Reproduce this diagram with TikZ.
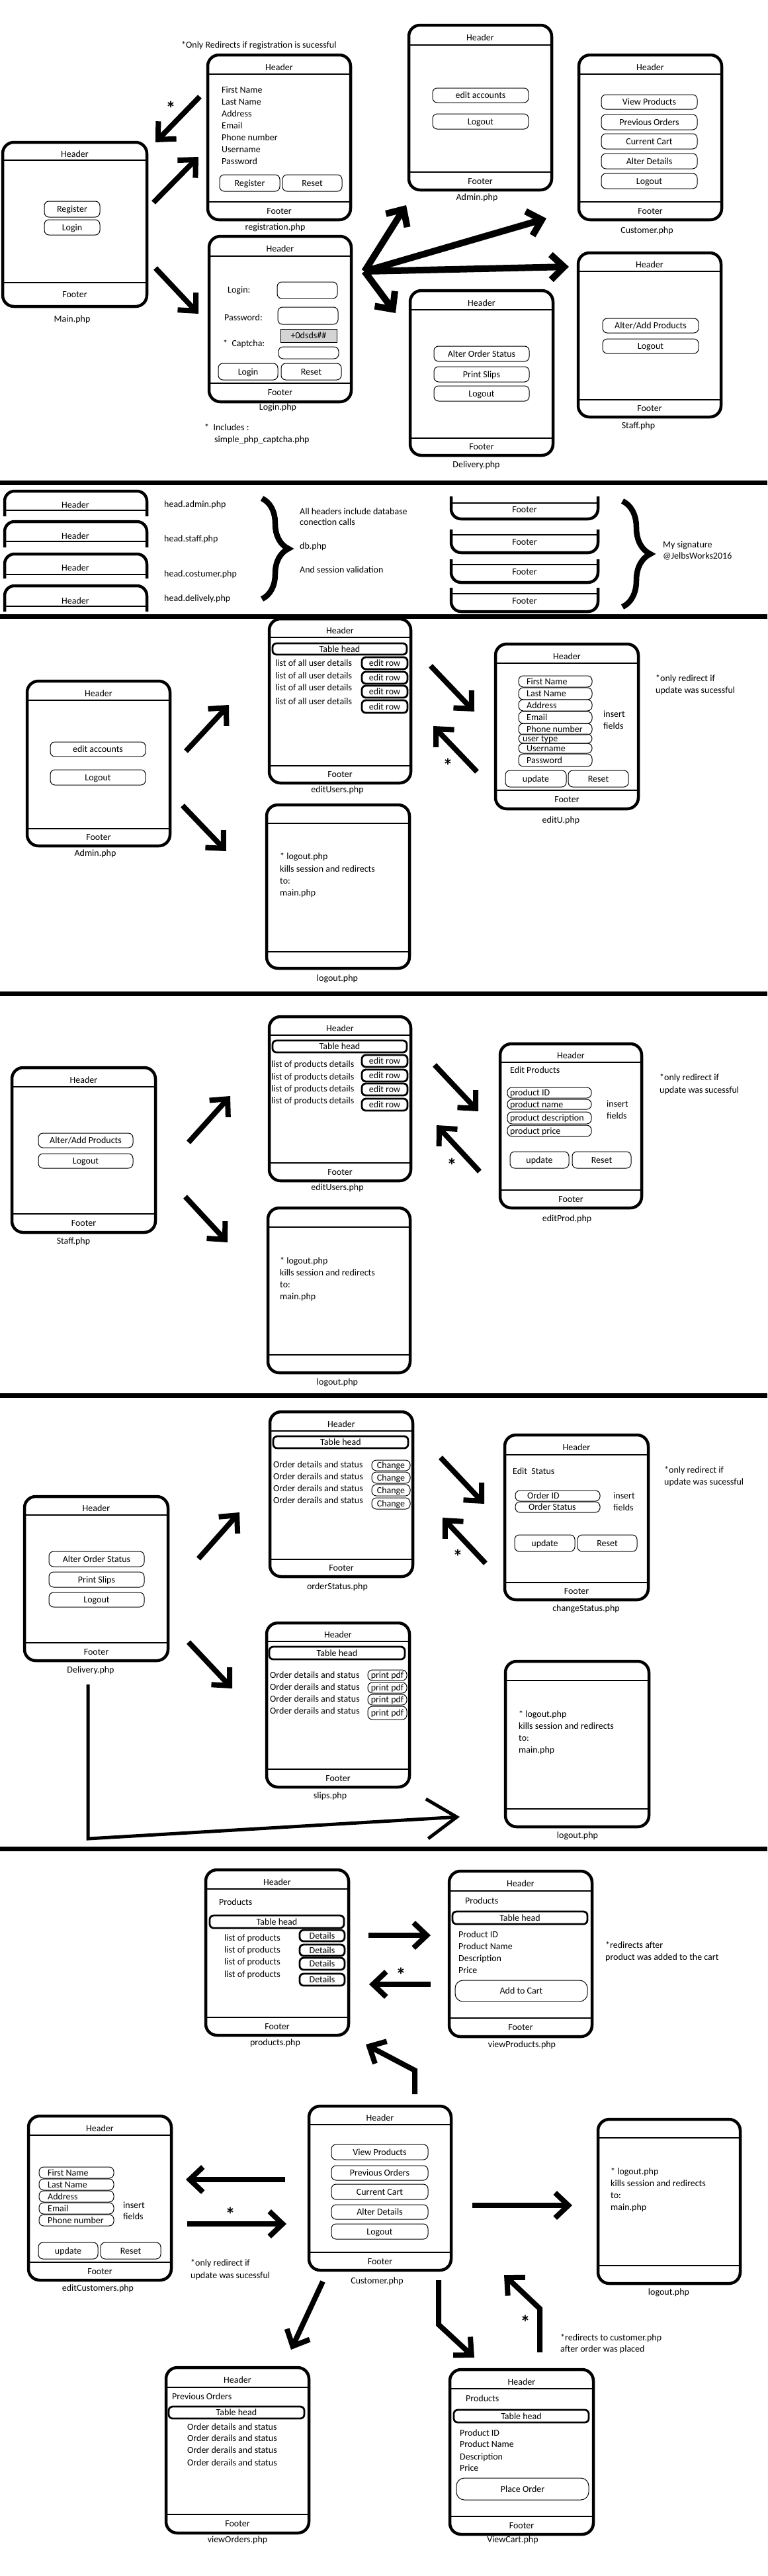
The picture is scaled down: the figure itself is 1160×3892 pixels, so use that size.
\documentclass[tikz,border=0pt]{standalone}
\usepackage{fontspec}
\setmainfont{Carlito}
\usetikzlibrary{arrows.meta,decorations.pathreplacing}
\newcounter{tn}
\tikzset{
 txt/.style={font=\fontsize{14}{17}\selectfont, inner sep=0pt, text height=9.2pt, text depth=0pt},
 phonebox/.style={draw, line width=4.5pt, rounded corners=17pt, inner sep=0pt, outer sep=0pt},
 hline/.style={line width=1.3pt},
 btn/.style={draw, line width=1pt, rounded corners=7pt, txt, outer sep=0pt},
 thk/.style={line width=2.8pt, rounded corners=6pt},
 arr/.style={line width=8pt, -{Straight Barb[length=20pt,width=38pt]}},
 divider/.style={line width=7pt},
 openbox/.style={line width=4.5pt, rounded corners=15pt},
 brc/.style={line width=8.5pt, decorate, decoration={brace, amplitude=40pt}},
}
\newcommand\phone[9]{%
 \pgfmathsetmacro\phw{#4-#2}\pgfmathsetmacro\phh{#5-#3}%
 \pgfmathsetmacro\phcx{(#2+#4)/2}\pgfmathsetmacro\phhy{(#3+#6)/2+4}\pgfmathsetmacro\phfy{(#7+#5)/2}%
 \node[phonebox,minimum width=\phw pt,minimum height=\phh pt,anchor=north west] (#1) at (#2,#3) {};%
 \draw[hline] (#2,#6) -- (#4,#6);%
 \draw[hline] (#2,#7) -- (#4,#7);%
 \node[txt] (#1-h) at (\phcx,\phhy) {#8};%
 \node[txt] (#1-f) at (\phcx,\phfy) {#9};%
}
\newcommand\bt[7][]{%
 \pgfmathsetmacro\bw{#5-#3}\pgfmathsetmacro\bh{#6-#4}%
 \node[btn,minimum width=\bw pt,minimum height=\bh pt,anchor=north west,#1] (#2) at (#3,#4) {#7};}
\newcommand\fl[7][10]{%
 \pgfmathsetmacro\bw{#5-#3}\pgfmathsetmacro\bh{#6-#4}%
 \node[btn,minimum width=\bw pt,minimum height=\bh pt,anchor=north west] (#2) at (#3,#4) {};%
 \node[txt,anchor=west] (#2-t) at ([xshift=#1pt]#2.west) {#7};}
\newcommand\tx[3][]{\stepcounter{tn}\node[txt,anchor=west,#1] (t\arabic{tn}) at (#2) {#3};}
\newcommand\tc[2]{\stepcounter{tn}\node[txt] (t\arabic{tn}) at (#1) {#2};}
\newcommand\astr[1]{\stepcounter{tn}\node[txt,font=\fontsize{30}{30}\selectfont\bfseries,yshift=-10pt] (t\arabic{tn}) at (#1) {*};}
\newcommand\ar[4][]{\coordinate (#2s) at (#3);\coordinate (#2e) at (#4);\draw[arr,#1] (#2s) -- (#2e);}

\begin{document}
\begin{tikzpicture}[x=1pt,y=-1pt]
\fill[white] (0,0) rectangle (1160,3892);
\useasboundingbox (0,0) rectangle (1160,3892);

% ================= SECTION 1 =================
\tx{274,68}{*Only Redirects if registration is sucessful}
\phone{reg}{314}{83}{530}{332}{112}{305}{Header}{Footer}
\tx{335,136}{First Name}
\tx{335,154}{Last Name}
\tx{335,172}{Address}
\tx{335,190}{Email}
\tx{335,208}{Phone number}
\tx{335,226}{Username}
\tx{335,244}{Password}
\bt{regR}{332}{264}{423}{289}{Register}
\bt{regS}{427}{264}{517}{289}{Reset}
\tc{416,343}{registration.php}

\phone{adm}{618}{38}{834}{287}{68}{260}{Header}{Footer}
\bt{admE}{654}{133}{799}{155}{edit accounts}
\bt{admL}{654}{172}{799}{195}{Logout}
\tc{721,298}{Admin.php}

\phone{cus}{875}{83}{1091}{332}{112}{305}{Header}{Footer}
\bt{cusV}{909}{143}{1054}{165}{View Products}
\bt{cusP}{909}{173}{1054}{196}{Previous Orders}
\bt{cusC}{909}{202}{1054}{225}{Current Cart}
\bt{cusA}{909}{232}{1054}{255}{Alter Details}
\bt{cusL}{909}{262}{1054}{285}{Logout}
\tc{978,348}{Customer.php}

\phone{mai}{4}{215}{222}{463}{242}{427}{Header}{Footer}
\bt{maiR}{67}{304}{151}{328}{Register}
\bt{maiL}{67}{332}{151}{355}{Login}
\tc{109,482}{Main.php}

\phone{log}{316}{357}{531}{607}{387}{579}{Header}{Footer}
\tx{344,438}{Login:}
\bt{lgI}{419}{426}{510}{451}{}
\tx{339,480}{Password:}
\bt{lgP}{420}{464}{511}{490}{}
\bt[fill=black!17,rounded corners=0pt]{lgK}{424}{497}{509}{517}{+0dsds\#\#}
\tx{337,519}{*\ \ Captcha:}
\bt{lgC}{421}{524}{512}{542}{}
\bt{lgB}{330}{549}{420}{574}{Login}
\bt{lgR}{425}{549}{516}{574}{Reset}
\tc{420,615}{Login.php}
\tx{309,646}{*\ \ Includes :}
\tx{324,664}{simple\_php\_captcha.php}

\phone{del}{620}{439}{836}{688}{468}{662}{Header}{Footer}
\bt{delA}{656}{523}{800}{546}{Alter Order Status}
\bt{delP}{656}{554}{800}{577}{Print Slips}
\bt{delL}{656}{583}{800}{606}{Logout}
\tc{720,702}{Delivery.php}

\phone{sta}{874}{382}{1090}{630}{410}{604}{Header}{Footer}
\bt{staA}{911}{481}{1056}{503}{Alter/Add Products}
\bt{staL}{911}{512}{1056}{534}{Logout}
\tc{965,643}{Staff.php}

\ar{a1}{302,146}{235,215}
\astr{258,160}
\ar{a2}{232,306}{300,237}
\ar{a3}{235,405}{300,474}
\coordinate (fan) at (551,410);
\coordinate (fanA) at (614,310);
\coordinate (fanC) at (826,330);
\coordinate (fanS) at (860,403);
\coordinate (fanD) at (598,473);
\draw[arr,line width=10pt] (fan) -- (fanA);
\draw[arr,line width=10pt] (fan) -- (fanC);
\draw[arr,line width=10pt] (fan) -- (fanS);
\draw[arr,line width=10pt] (fan) -- (fanD);

% dividers
\coordinate (dv1a) at (0,729); \coordinate (dv1b) at (1160,729);
\draw[divider] (dv1a) -- (dv1b);
\coordinate (dv2a) at (0,931); \coordinate (dv2b) at (1160,931);
\draw[divider] (dv2a) -- (dv2b);
\coordinate (dv3a) at (0,1501); \coordinate (dv3b) at (1160,1501);
\draw[divider] (dv3a) -- (dv3b);
\coordinate (dv4a) at (0,2108); \coordinate (dv4b) at (1160,2108);
\draw[divider] (dv4a) -- (dv4b);
\coordinate (dv5a) at (0,2793); \coordinate (dv5b) at (1160,2793);
\draw[divider] (dv5a) -- (dv5b);

% ================= SECTION 2 =================
\draw[openbox] (7,780) -- (7,742) -- (222,742) -- (222,780);
\draw[hline] (7,771) -- (222,771);
\tc{114,763}{Header}
\draw[openbox] (7,827) -- (7,788) -- (222,788) -- (222,827);
\draw[hline] (7,818) -- (222,818);
\tc{114,810}{Header}
\draw[openbox] (7,874) -- (7,837) -- (222,837) -- (222,874);
\draw[hline] (7,868) -- (222,868);
\tc{114,858}{Header}
\draw[openbox] (7,924) -- (7,885) -- (222,885) -- (222,924);
\draw[hline] (7,916) -- (222,916);
\tc{114,908}{Header}
\tx{248,762}{head.admin.php}
\tx{248,814}{head.staff.php}
\tx{248,867}{head.costumer.php}
\tx{248,904}{head.delively.php}
\draw[brc] (396,753) -- (396,905);
\tx{453,773}{All headers include database}
\tx{453,789}{conection calls}
\tx{453,825}{db.php}
\tx{453,861}{And session validation}

\draw[openbox] (682,750) -- (682,784) -- (904,784) -- (904,750);
\draw[hline] (682,760) -- (904,760);
\tc{793,770}{Footer}
\draw[openbox] (682,800) -- (682,835) -- (904,835) -- (904,800);
\draw[hline] (682,808) -- (904,808);
\tc{793,819}{Footer}
\draw[openbox] (682,845) -- (682,880) -- (904,880) -- (904,845);
\draw[hline] (682,853) -- (904,853);
\tc{793,864}{Footer}
\draw[openbox] (682,888) -- (682,924) -- (904,924) -- (904,888);
\draw[hline] (682,897) -- (904,897);
\tc{793,908}{Footer}
\draw[brc,decoration={brace,amplitude=42pt}] (941,757) -- (941,917);
\tx{1002,823}{My signature}
\tx{1002,840}{@JelbsWorks2016}

% ================= SECTION 3 =================
\phone{admB}{41}{1029}{257}{1278}{1058}{1252}{Header}{Footer}
\bt{admBE}{76}{1121}{220}{1143}{edit accounts}
\bt{admBL}{76}{1163}{220}{1186}{Logout}
\tc{144,1289}{Admin.php}

\phone{eus}{407}{935}{621}{1183}{963}{1157}{Header}{Footer}
\bt[thk]{eusT}{412}{972}{615}{989}{Table head}
\tx{416,1002}{list of all user details}
\tx{416,1021}{list of all user details}
\tx{416,1039}{list of all user details}
\tx{416,1060}{list of all user details}
\bt[thk]{eusE1}{547}{993}{616}{1011}{edit row}
\bt[thk]{eusE2}{547}{1015}{616}{1033}{edit row}
\bt[thk]{eusE3}{547}{1036}{616}{1054}{edit row}
\bt[thk]{eusE4}{547}{1058}{616}{1077}{edit row}
\tc{510,1193}{editUsers.php}

\phone{edu}{749}{973}{965}{1222}{1002}{1194}{Header}{Footer}
\fl[12]{eduF1}{784}{1021}{895}{1038}{First Name}
\fl[12]{eduF2}{784}{1039}{895}{1057}{Last Name}
\fl[12]{eduF3}{784}{1057}{895}{1074}{Address}
\fl[12]{eduF4}{784}{1075}{895}{1093}{Email}
\fl[12]{eduF5}{784}{1093}{895}{1110}{Phone number}
\fl[6]{eduF6}{784}{1109}{895}{1123}{user type}
\fl[12]{eduF7}{784}{1123}{895}{1138}{Username}
\fl[12]{eduF8}{784}{1139}{895}{1158}{Password}
\tx{912,1079}{insert}
\tx{912,1097}{fields}
\bt{eduU}{764}{1164}{856}{1189}{update}
\bt{eduR}{859}{1164}{950}{1189}{Reset}
\tc{848,1239}{editU.php}
\tx{991,1025}{*only redirect if}
\tx{991,1043}{update was sucessful}

\phone{loA}{403}{1216}{619}{1463}{1244}{1438}{}{}
\tx{423,1294}{* logout.php}
\tx{423,1313}{kills session and redirects}
\tx{423,1331}{to:}
\tx{423,1349}{main.php}
\tc{510,1478}{logout.php}

\ar{b1}{281,1135}{346,1065}
\ar{b2}{651,1006}{717,1075}
\ar{b3}{721,1166}{655,1097}
\astr{677,1153}
\ar{b4}{276,1217}{342,1286}

% ================= SECTION 4 =================
\phone{eup}{407}{1536}{621}{1784}{1564}{1757}{Header}{Footer}
\bt[thk]{eupT}{412}{1572}{615}{1590}{Table head}
\tx{410,1608}{list of products details}
\tx{410,1627}{list of products details}
\tx{410,1645}{list of products details}
\tx{410,1663}{list of products details}
\bt[thk]{eupE1}{547}{1594}{616}{1612}{edit row}
\bt[thk]{eupE2}{547}{1616}{616}{1634}{edit row}
\bt[thk]{eupE3}{547}{1637}{616}{1655}{edit row}
\bt[thk]{eupE4}{547}{1660}{616}{1678}{edit row}
\tc{510,1794}{editUsers.php}

\phone{staB}{18}{1613}{235}{1862}{1642}{1834}{Header}{Footer}
\bt{staBA}{58}{1712}{201}{1734}{Alter/Add Products}
\bt{staBL}{58}{1743}{201}{1765}{Logout}
\tc{111,1875}{Staff.php}

\phone{epr}{756}{1577}{970}{1825}{1605}{1798}{Header}{Footer}
\tx{771,1617}{Edit Products}
\fl[4]{eprF1}{767}{1643}{894}{1659}{product ID}
\fl[4]{eprF2}{767}{1661}{894}{1676}{product name}
\fl[4]{eprF3}{767}{1680}{894}{1698}{product description}
\fl[4]{eprF4}{767}{1700}{894}{1717}{product price}
\tx{917,1668}{insert}
\tx{917,1686}{fields}
\bt{eprU}{771}{1740}{860}{1765}{update}
\bt{eprR}{865}{1740}{954}{1765}{Reset}
\tc{857,1841}{editProd.php}
\tx{997,1628}{*only redirect if}
\tx{997,1647}{update was sucessful}

\phone{loB}{405}{1825}{620}{2074}{1854}{2047}{}{}
\tx{423,1905}{* logout.php}
\tx{423,1923}{kills session and redirects}
\tx{423,1941}{to:}
\tx{423,1959}{main.php}
\tc{510,2088}{logout.php}

\ar{c1}{285,1726}{348,1656}
\ar{c2}{657,1609}{723,1679}
\ar{c3}{725,1770}{660,1700}
\astr{683,1757}
\ar{c4}{280,1808}{344,1877}

% ================= SECTION 5 =================
\phone{ost}{408}{2133}{624}{2382}{2162}{2356}{Header}{Footer}
\bt[thk]{ostT}{413}{2170}{617}{2188}{Table head}
\tx{413,2213}{Order details and status}
\tx{413,2231}{Order derails and status}
\tx{413,2249}{Order derails and status}
\tx{413,2267}{Order derails and status}
\bt{ostC1}{562}{2206}{620}{2222}{Change}
\bt{ostC2}{562}{2224}{620}{2241}{Change}
\bt{ostC3}{562}{2243}{620}{2260}{Change}
\bt{ostC4}{562}{2263}{620}{2280}{Change}
\tc{510,2397}{orderStatus.php}

\phone{cst}{763}{2168}{980}{2417}{2198}{2391}{Header}{Footer}
\tx{775,2223}{Edit\ \ Status}
\fl[18]{cstF1}{779}{2252}{907}{2268}{Order ID}
\fl[20]{cstF2}{779}{2269}{907}{2285}{Order Status}
\tx{927,2260}{insert}
\tx{927,2278}{fields}
\bt{cstU}{778}{2319}{869}{2344}{update}
\bt{cstR}{873}{2319}{963}{2344}{Reset}
\tc{886,2430}{changeStatus.php}
\tx{1004,2221}{*only redirect if}
\tx{1004,2239}{update was sucessful}

\phone{delB}{37}{2261}{254}{2509}{2289}{2482}{Header}{Footer}
\bt{delBA}{74}{2344}{218}{2367}{Alter Order Status}
\bt{delBP}{74}{2375}{218}{2398}{Print Slips}
\bt{delBL}{74}{2406}{218}{2428}{Logout}
\tc{137,2523}{Delivery.php}

\phone{sli}{403}{2452}{619}{2700}{2480}{2673}{Header}{Footer}
\bt[thk]{sliT}{407}{2488}{612}{2507}{Table head}
\tx{408,2531}{Order details and status}
\tx{408,2549}{Order derails and status}
\tx{408,2567}{Order derails and status}
\tx{408,2585}{Order derails and status}
\bt{sliP1}{556}{2523}{615}{2539}{print pdf}
\bt{sliP2}{556}{2542}{615}{2558}{print pdf}
\bt{sliP3}{556}{2560}{615}{2576}{print pdf}
\bt{sliP4}{556}{2578}{615}{2598}{print pdf}
\tc{499,2713}{slips.php}

\phone{loC}{764}{2510}{981}{2760}{2539}{2733}{}{}
\tx{784,2590}{* logout.php}
\tx{784,2608}{kills session and redirects}
\tx{784,2626}{to:}
\tx{784,2644}{main.php}
\tc{873,2773}{logout.php}

\ar{d1}{300,2355}{362,2285}
\ar{d2}{666,2202}{732,2272}
\ar{d3}{734,2362}{669,2293}
\astr{692,2348}
\ar{d4}{285,2481}{351,2551}
\coordinate (d5s) at (133,2545);
\coordinate (d5m) at (133,2778);
\coordinate (d5e) at (695,2745);
\draw[line width=5pt,-{Straight Barb[length=45pt,width=60pt]}] (d5s) -- (d5m) -- (d5e);

% ================= SECTION 6 =================
\phone{prd}{311}{2825}{527}{3075}{2854}{3048}{Header}{Footer}
\tx{331,2874}{Products}
\bt[thk]{prdT}{317}{2894}{520}{2913}{Table head}
\tx{339,2928}{list of products}
\tx{339,2946}{list of products}
\tx{339,2964}{list of products}
\tx{339,2983}{list of products}
\bt[thk]{prdD1}{453}{2916}{521}{2933}{Details}
\bt[thk]{prdD2}{453}{2938}{521}{2955}{Details}
\bt[thk]{prdD3}{453}{2958}{521}{2976}{Details}
\bt[thk]{prdD4}{453}{2982}{521}{3000}{Details}
\tc{416,3086}{products.php}

\phone{vpr}{679}{2827}{895}{3077}{2857}{3049}{Header}{Footer}
\tx{703,2872}{Products}
\bt[thk]{vprT}{684}{2888}{888}{2907}{Table head}
\tx{693,2923}{Product ID}
\tx{693,2941}{Product Name}
\tx{693,2959}{Description}
\tx{693,2977}{Price}
\bt[rounded corners=12pt]{vprA}{688}{2992}{888}{3024}{Add to Cart}
\tc{789,3089}{viewProducts.php}
\tx{915,2939}{*redirects after}
\tx{915,2957}{product was added to the cart}

\ar{e1}{557,2924}{651,2924}
\ar{e2}{651,2998}{558,2998}
\astr{606,2980}

\phone{cusB}{467}{3182}{682}{3430}{3210}{3403}{Header}{Footer}
\bt{cusBV}{501}{3240}{647}{3263}{View Products}
\bt{cusBP}{501}{3272}{647}{3294}{Previous Orders}
\bt{cusBC}{501}{3300}{647}{3323}{Current Cart}
\bt{cusBA}{501}{3331}{647}{3353}{Alter Details}
\bt{cusBL}{501}{3360}{647}{3383}{Logout}
\tc{570,3446}{Customer.php}

\coordinate (e3s) at (627,3164);
\coordinate (e3m) at (627,3128);
\coordinate (e3e) at (553,3089);
\draw[arr] (e3s) -- (e3m) -- (e3e);

\phone{ecu}{43}{3197}{259}{3445}{3226}{3418}{Header}{Footer}
\fl[13]{ecuF1}{59}{3274}{172}{3291}{First Name}
\fl[13]{ecuF2}{59}{3292}{172}{3309}{Last Name}
\fl[13]{ecuF3}{59}{3310}{172}{3327}{Address}
\fl[13]{ecuF4}{59}{3328}{172}{3345}{Email}
\fl[13]{ecuF5}{59}{3346}{172}{3363}{Phone number}
\tx{186,3332}{insert}
\tx{186,3349}{fields}
\bt{ecuU}{58}{3388}{148}{3413}{update}
\bt{ecuR}{152}{3388}{243}{3413}{Reset}
\tc{148,3457}{editCustomers.php}
\tx{288,3419}{*only redirect if}
\tx{288,3438}{update was sucessful}

\ar{e4}{431,3293}{281,3293}
\ar{e5}{283,3360}{433,3360}
\astr{348,3342}
\ar{e6}{714,3332}{865,3332}

\phone{loD}{904}{3202}{1119}{3450}{3230}{3423}{}{}
\tx{923,3281}{* logout.php}
\tx{923,3299}{kills session and redirects}
\tx{923,3317}{to:}
\tx{923,3335}{main.php}
\tc{1011,3463}{logout.php}

\ar{e7}{488,3447}{440,3550}
\coordinate (e8s) at (663,3445);
\coordinate (e8m) at (663,3512);
\coordinate (e8e) at (717,3562);
\draw[arr] (e8s) -- (e8m) -- (e8e);
\coordinate (e9s) at (816,3554);
\coordinate (e9m) at (816,3488);
\coordinate (e9e) at (762,3437);
\draw[arr] (e9s) -- (e9m) -- (e9e);
\astr{794,3505}
\tx{847,3532}{*redirects to customer.php}
\tx{847,3549}{after order was placed}

\phone{vor}{251}{3577}{467}{3827}{3607}{3799}{Header}{Footer}
\tx{260,3621}{Previous Orders}
\bt[thk]{vorT}{255}{3636}{460}{3654}{Table head}
\tx{283,3667}{Order details and status}
\tx{283,3684}{Order derails and status}
\tx{283,3702}{Order derails and status}
\tx{283,3721}{Order derails and status}
\tc{359,3837}{viewOrders.php}

\phone{vca}{680}{3580}{897}{3829}{3609}{3802}{Header}{Footer}
\tx{704,3624}{Products}
\bt[thk]{vcaT}{686}{3641}{890}{3660}{Table head}
\tx{695,3676}{Product ID}
\tx{695,3693}{Product Name}
\tx{695,3712}{Description}
\tx{695,3729}{Price}
\bt[rounded corners=12pt]{vcaP}{690}{3744}{890}{3777}{Place Order}
\tc{775,3837}{ViewCart.php}
\end{tikzpicture}
\end{document}
